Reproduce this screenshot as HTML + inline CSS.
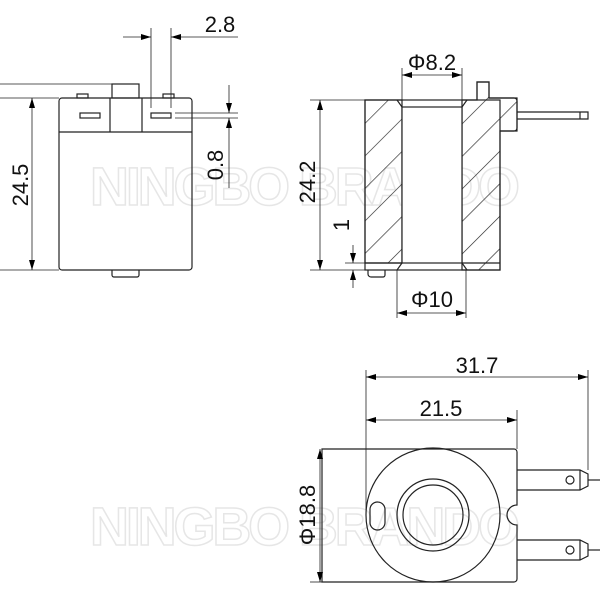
<!DOCTYPE html>
<html><head><style>body{margin:0;background:#fff}svg{display:block}</style></head><body>
<svg width="600" height="600" viewBox="0 0 600 600" xmlns="http://www.w3.org/2000/svg" font-family="Liberation Sans, Arial, sans-serif">
<defs>
<marker id="a" viewBox="0 0 10 6" refX="10" refY="3" markerWidth="10" markerHeight="6" orient="auto-start-reverse" markerUnits="userSpaceOnUse"><path d="M0,0L10,3L0,6z" fill="#000"/></marker>
<pattern id="h" patternUnits="userSpaceOnUse" width="23" height="23" patternTransform="rotate(45)"><line x1="0" y1="0" x2="0" y2="23" stroke="#222" stroke-width="1.3"/></pattern>
</defs>
<g fill="none" stroke="#e6e6e6" stroke-width="1.5" font-size="54" font-weight="bold">
<text x="90" y="205" textLength="430">NINGBO BRANDO</text>
<text x="90" y="545" textLength="430">NINGBO BRANDO</text>
</g>
<g fill="none" stroke="#222" stroke-width="1.2">
<rect x="59" y="98" width="133" height="172" rx="3"/>
<line x1="59" y1="132" x2="192" y2="132"/>
<line x1="110" y1="98" x2="110" y2="132"/><line x1="142" y1="98" x2="142" y2="132"/>
<rect x="112" y="84" width="27" height="14"/>
<rect x="77" y="94" width="11" height="4"/><rect x="163" y="94" width="11" height="4"/>
<rect x="80" y="113" width="20" height="5"/><rect x="151" y="113" width="20" height="5"/>
<path d="M112,270v5a2,2 0 0 0 2,2h23a2,2 0 0 0 2,-2v-5"/>
<line x1="0" y1="84" x2="138" y2="84" stroke-width="0.8"/>
<line x1="0" y1="98" x2="59" y2="98" stroke-width="0.8"/>
<line x1="0" y1="270" x2="59" y2="270" stroke-width="0.8"/>
<line x1="32" y1="98" x2="32" y2="270" stroke-width="0.8" marker-start="url(#a)" marker-end="url(#a)"/>
<line x1="151" y1="28" x2="151" y2="108" stroke-width="0.8"/><line x1="171" y1="28" x2="171" y2="108" stroke-width="0.8"/>
<line x1="123" y1="37" x2="151" y2="37" stroke-width="0.8" marker-end="url(#a)"/>
<line x1="238" y1="37" x2="171" y2="37" stroke-width="0.8" marker-end="url(#a)"/>
<line x1="175" y1="113" x2="238" y2="113" stroke-width="0.8"/><line x1="175" y1="118" x2="238" y2="118" stroke-width="0.8"/>
<line x1="229" y1="85" x2="229" y2="113" stroke-width="0.8" marker-end="url(#a)"/>
<line x1="229" y1="188" x2="229" y2="118" stroke-width="0.8" marker-end="url(#a)"/>
<path d="M365,100H402V263H365Z" fill="url(#h)"/>
<path d="M462,100H477V82H489V98H517V131H500V270H462Z" fill="url(#h)"/>
<rect x="365" y="100" width="135" height="170" fill="none"/>
<rect x="402" y="107" width="60" height="156" fill="#fff"/>
<line x1="397" y1="100" x2="402" y2="107"/><line x1="467" y1="100" x2="462" y2="107"/>
<line x1="397" y1="270" x2="402" y2="263"/><line x1="467" y1="270" x2="462" y2="263"/>
<line x1="365" y1="263" x2="402" y2="263"/><line x1="462" y1="263" x2="500" y2="263"/>
<path d="M477,100V82H489V98H514a3,3 0 0 1 3,3V128a3,3 0 0 1 -3,3H500"/>
<path d="M517,112H588V119H517"/><line x1="580" y1="112" x2="580" y2="119"/>
<path d="M368,270v4a3,3 0 0 0 3,3h12a2,2 0 0 0 2,-2v-5"/>
<line x1="402" y1="68" x2="402" y2="100" stroke-width="0.8"/><line x1="462" y1="68" x2="462" y2="100" stroke-width="0.8"/>
<line x1="402" y1="75" x2="462" y2="75" stroke-width="0.8" marker-start="url(#a)" marker-end="url(#a)"/>
<line x1="310" y1="100" x2="365" y2="100" stroke-width="0.8"/><line x1="310" y1="270" x2="365" y2="270" stroke-width="0.8"/>
<line x1="320" y1="100" x2="320" y2="270" stroke-width="0.8" marker-start="url(#a)" marker-end="url(#a)"/>
<line x1="345" y1="263" x2="365" y2="263" stroke-width="0.8"/>
<line x1="353" y1="245" x2="353" y2="263" stroke-width="0.8" marker-end="url(#a)"/>
<line x1="353" y1="288" x2="353" y2="270" stroke-width="0.8" marker-end="url(#a)"/>
<line x1="397" y1="270" x2="397" y2="318" stroke-width="0.8"/><line x1="466" y1="270" x2="466" y2="318" stroke-width="0.8"/>
<line x1="397" y1="313" x2="466" y2="313" stroke-width="0.8" marker-start="url(#a)" marker-end="url(#a)"/>
<path d="M322,449H514a3,3 0 0 1 3,3V505a10,10 0 0 0 0,20V579a3,3 0 0 1 -3,3H322Z"/>
<circle cx="433" cy="515" r="67"/>
<circle cx="433" cy="515" r="36"/><circle cx="433" cy="515" r="30"/>
<rect x="370" y="502" width="15" height="28" rx="7.5"/>
<path d="M517,470H580L588,474V486L580,490H517"/><line x1="580" y1="470" x2="580" y2="490"/><circle cx="570" cy="480" r="4"/>
<line x1="588" y1="480" x2="600" y2="480"/>
<path d="M517,540H580L588,544V556L580,560H517"/><line x1="580" y1="540" x2="580" y2="560"/><circle cx="570" cy="550" r="4"/>
<line x1="588" y1="550" x2="600" y2="550"/>
<line x1="366" y1="370" x2="366" y2="510" stroke-width="0.8"/>
<line x1="517" y1="410" x2="517" y2="449" stroke-width="0.8"/>
<line x1="588" y1="370" x2="588" y2="470" stroke-width="0.8"/>
<line x1="366" y1="377" x2="588" y2="377" stroke-width="0.8" marker-start="url(#a)" marker-end="url(#a)"/>
<line x1="366" y1="420" x2="517" y2="420" stroke-width="0.8" marker-start="url(#a)" marker-end="url(#a)"/>
<line x1="310" y1="582" x2="322" y2="582" stroke-width="0.8"/>
<line x1="320" y1="449" x2="320" y2="582" stroke-width="0.8" marker-start="url(#a)" marker-end="url(#a)"/>
</g>
<g fill="#111" font-size="22">
<text x="220" y="32" text-anchor="middle">2.8</text>
<text transform="translate(28,185) rotate(-90)" text-anchor="middle">24.5</text>
<text transform="translate(223,165) rotate(-90)" text-anchor="middle">0.8</text>
<text x="432" y="70" text-anchor="middle">Φ8.2</text>
<text transform="translate(315,182) rotate(-90)" text-anchor="middle">24.2</text>
<text transform="translate(349,225) rotate(-90)" text-anchor="middle">1</text>
<text x="432" y="307" text-anchor="middle">Φ10</text>
<text x="477" y="373" text-anchor="middle">31.7</text>
<text x="441" y="416" text-anchor="middle">21.5</text>
<text transform="translate(315,515) rotate(-90)" text-anchor="middle">Φ18.8</text>
</g>
</svg>
</body></html>
